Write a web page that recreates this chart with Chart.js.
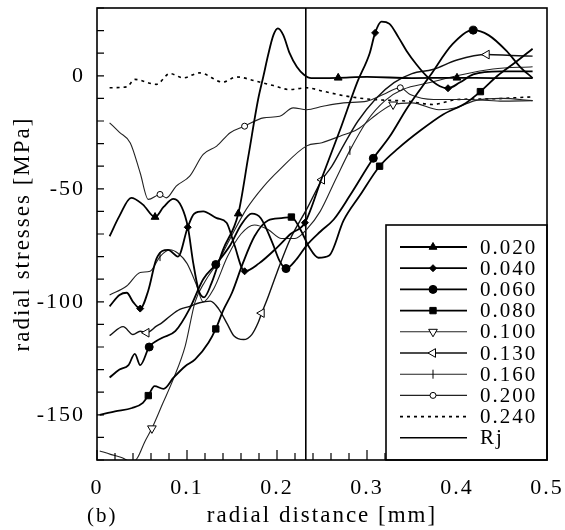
<!DOCTYPE html>
<html>
<head>
<meta charset="utf-8">
<script src="https://cdn.jsdelivr.net/npm/chart.js@4"></script>
<style>
  html, body { margin: 0; padding: 0; background: #fff; }
</style>
</head>
<body>
<canvas id="chart" width="565" height="530"></canvas>
<script>
// axis limits and the Rj line
const xMin = 0, xMax = 0.5, yMin = -170, yMax = 30;
const rj = 0.232;
const depths = ['0.020', '0.040', '0.060', '0.080', '0.100', '0.130', '0.160', '0.200', '0.240'];

// radial stress curves, one pair of arrays per depth (x in mm, y in MPa)
const x020 = [0.014, 0.025, 0.038, 0.051, 0.0645, 0.074, 0.085, 0.094, 0.101, 0.107, 0.113, 0.119, 0.127, 0.14, 0.157, 0.168, 0.179, 0.185, 0.19, 0.196, 0.201, 0.207, 0.214, 0.222, 0.23, 0.238, 0.25, 0.268, 0.3, 0.35, 0.4, 0.44, 0.484];
const y020 = [-71, -62, -54, -57, -62.5, -58, -54.5, -58, -67, -83, -95, -98, -92, -77, -61, -36, -10.5, 0, 9, 18, 21, 18, 10, 4, 0.5, -1, -1, -0.9, -0.5, -1, -0.9, -1, -1];
const mk020 = [0.0645, 0.157, 0.268, 0.4];

const x040 = [0.014, 0.025, 0.033, 0.04, 0.048, 0.057, 0.066, 0.079, 0.09, 0.1008, 0.108, 0.118, 0.133, 0.144, 0.152, 0.164, 0.18, 0.2, 0.215, 0.231, 0.25, 0.27, 0.289, 0.303, 0.309, 0.316, 0.325, 0.335, 0.344, 0.355, 0.366, 0.381, 0.39, 0.403, 0.418, 0.448, 0.484];
const y040 = [-102, -97, -96, -100, -103, -95, -81, -77, -80, -67, -61, -60, -63, -65, -74, -86.5, -83, -76, -70, -65, -45, -24, -3, 10, 19, 24, 23, 17, 11, 5, 0, -4.6, -5.5, -3, 0.6, 2, 2];
const mk040 = [0.048, 0.1008, 0.164, 0.231, 0.309, 0.39];

const x060 = [0.014, 0.025, 0.035, 0.042, 0.048, 0.058, 0.072, 0.087, 0.103, 0.118, 0.132, 0.148, 0.16, 0.172, 0.182, 0.195, 0.203, 0.21, 0.222, 0.233, 0.248, 0.263, 0.281, 0.307, 0.325, 0.345, 0.37, 0.395, 0.418, 0.435, 0.455, 0.47, 0.484];
const y060 = [-133.5, -130, -128, -123, -128, -120, -116, -113, -103, -90, -83.5, -75, -66, -61, -63, -74, -82, -85.3, -81, -75, -69, -63.6, -53, -36.5, -27, -14, 0, 14, 20.2, 18, 11, 4, -1];
const mk060 = [0.058, 0.132, 0.21, 0.307, 0.418];

const x080 = [0.003, 0.02, 0.039, 0.051, 0.057, 0.064, 0.074, 0.085, 0.098, 0.109, 0.124, 0.132, 0.14, 0.15, 0.162, 0.175, 0.19, 0.205, 0.216, 0.226, 0.236, 0.246, 0.258, 0.274, 0.292, 0.314, 0.335, 0.36, 0.385, 0.41, 0.426, 0.445, 0.465, 0.484];
const y080 = [-150, -148.5, -147, -144.7, -141.5, -137.3, -138.5, -133.6, -128.5, -125.5, -118, -112, -104, -96, -83, -71, -64, -63, -62.5, -68, -76, -80.5, -79.5, -64, -53, -40, -32, -24, -17, -12, -7, 0, 6, 12];
const mk080 = [0.057, 0.132, 0.216, 0.314, 0.426];

const x100 = [0.003, 0.015, 0.028, 0.039, 0.045, 0.053, 0.061, 0.073, 0.085, 0.098, 0.109, 0.12, 0.135, 0.148, 0.166, 0.185, 0.203, 0.233, 0.25, 0.27, 0.289, 0.311, 0.329, 0.35, 0.38, 0.4, 0.42, 0.45, 0.484];
const y100 = [-166, -167.5, -169, -171, -169, -162, -156, -145, -134, -119.6, -100, -91, -82, -72, -59, -49, -41.5, -31, -29.6, -26.7, -23.8, -17, -12.7, -12, -15, -14, -11, -10, -11];
const mk100 = [0.061, 0.329];

const x130 = [0.014, 0.029, 0.04, 0.048, 0.055, 0.066, 0.072, 0.081, 0.092, 0.103, 0.114, 0.126, 0.135, 0.145, 0.152, 0.163, 0.172, 0.179, 0.183, 0.189, 0.2, 0.215, 0.233, 0.25, 0.261, 0.275, 0.29, 0.31, 0.33, 0.35, 0.373, 0.4, 0.433, 0.46, 0.484];
const y130 = [-115, -111, -114.5, -113, -113.7, -110.8, -109.3, -106.4, -103.4, -102, -100.4, -99.7, -103, -110, -115, -116.7, -114.5, -109.3, -105, -99, -87, -72, -59, -46, -40, -30, -20, -10, -3, 1, 2.8, 7, 9.4, 9, 8.7];
const mk130 = [0.055, 0.183, 0.25, 0.433];

const x160 = [0.014, 0.033, 0.048, 0.059, 0.07, 0.081, 0.09, 0.1, 0.11, 0.118, 0.13, 0.145, 0.16, 0.175, 0.19, 0.205, 0.22, 0.233, 0.248, 0.265, 0.281, 0.3, 0.32, 0.34, 0.37, 0.4, 0.44, 0.484];
const y160 = [-97, -93, -87, -86.5, -80, -77, -78.5, -83, -92, -100, -94, -80, -70, -66, -68, -72, -72, -68, -60, -46, -33, -20, -11, -6, -3, 0, 3, 4];
const mk160 = [0.07, 0.281];

const x200 = [0.014, 0.025, 0.037, 0.048, 0.057, 0.07, 0.077, 0.088, 0.103, 0.118, 0.133, 0.148, 0.164, 0.185, 0.203, 0.218, 0.233, 0.251, 0.274, 0.3, 0.318, 0.337, 0.348, 0.374, 0.411, 0.448, 0.484];
const y200 = [-20.8, -25, -29.7, -43, -54.7, -52.5, -54, -48.8, -44.4, -34.8, -31.1, -25.2, -22.3, -18.6, -17.9, -14.2, -15, -13.5, -12, -11.2, -8.3, -5.3, -8.3, -10.5, -10.5, -11.2, -11];
const mk200 = [0.07, 0.164, 0.337];

const x240 = [0.014, 0.033, 0.042, 0.066, 0.081, 0.096, 0.114, 0.14, 0.155, 0.177, 0.196, 0.214, 0.233, 0.251, 0.277, 0.307, 0.344, 0.373, 0.4, 0.437, 0.484];
const y240 = [-5.3, -4.9, -1.6, -3.8, 1, -0.9, 1.3, -2.8, -0.5, -2.4, -4.3, -6.1, -5.3, -6.8, -9, -10.5, -11.2, -12.7, -10.5, -10.2, -9.3];

const serif = '"Liberation Serif", "Times New Roman", serif';

function pts(xs, ys) {
    return xs.map((x, i) => ({ x: x, y: ys[i] }));
}

// one line dataset, markers only at the listed x values
function curve(label, xs, ys, marks, look) {
    return {
        label: label,
        data: pts(xs, ys),
        showLine: true,
        borderColor: look.color || '#000',
        borderWidth: look.w,
        borderDash: look.dash || [],
        pointStyle: look.shape || 'circle',
        rotation: look.rot || 0,
        pointRadius: c => (marks.includes(c.raw.x) ? look.r : 0),
        pointBackgroundColor: look.fill || '#000',
        pointBorderColor: '#000',
        pointBorderWidth: 1,
        legendPoint: look.r ? { pointStyle: look.shape, rotation: look.rot || 0, radius: look.r, fill: look.fill } : null
    };
}

const datasets = [
    curve(depths[0], x020, y020, mk020, { w: 1.8, shape: 'triangle', r: 4.5 }),
    curve(depths[1], x040, y040, mk040, { w: 1.8, shape: 'rectRot', r: 3.5 }),
    curve(depths[2], x060, y060, mk060, { w: 1.8, shape: 'circle', r: 4 }),
    curve(depths[3], x080, y080, mk080, { w: 1.8, shape: 'rect', r: 4.5 }),
    curve(depths[4], x100, y100, mk100, { w: 1.1, color: '#222', shape: 'triangle', rot: 180, r: 5, fill: '#fff' }),
    curve(depths[5], x130, y130, mk130, { w: 1.4, color: '#111', shape: 'triangle', rot: -90, r: 5, fill: '#fff' }),
    curve(depths[6], x160, y160, mk160, { w: 1.1, color: '#222', shape: 'line', rot: 90, r: 4.5, fill: '#fff' }),
    curve(depths[7], x200, y200, mk200, { w: 1.1, color: '#222', shape: 'circle', r: 3, fill: '#fff' }),
    curve(depths[8], x240, y240, [], { w: 1.6, dash: [3, 4] }),
    {
        label: 'Rj',
        data: [{ x: rj, y: yMax }, { x: rj, y: yMin }],
        showLine: true,
        borderColor: '#000',
        borderWidth: 1.6,
        pointRadius: 0,
        tension: 0,
        cubicInterpolationMode: 'default'
    }
];

// frame, inward ticks, legend box and the (b) label
const decor = {
    id: 'decor',
    beforeLayout(chart) { chart.ctx.letterSpacing = '2px'; },
    beforeDraw(chart) { chart.ctx.letterSpacing = '2px'; },
    afterDatasetsDraw(chart) {
        const ctx = chart.ctx;
        const a = chart.chartArea;
        const xs = chart.scales.x, ys = chart.scales.y;
        ctx.save();
        ctx.strokeStyle = '#000';

        ctx.lineWidth = 1.2;
        ctx.beginPath();
        ys.ticks.forEach(t => {
            const py = ys.getPixelForValue(t.value);
            ctx.moveTo(a.left, py);
            ctx.lineTo(a.left + 7, py);
        });
        xs.ticks.forEach(t => {
            const px = xs.getPixelForValue(t.value);
            const len = t.label !== '' ? 10 : 7;
            ctx.moveTo(px, a.bottom);
            ctx.lineTo(px, a.bottom - len);
        });
        ctx.stroke();

        // legend
        const box = { l: 386, t: 225, r: a.right, b: a.bottom };
        ctx.fillStyle = '#fff';
        ctx.fillRect(box.l, box.t, box.r - box.l, box.b - box.t);
        ctx.lineWidth = 1.6;
        ctx.strokeRect(box.l, box.t, box.r - box.l, box.b - box.t);

        ctx.font = '21px ' + serif;
        ctx.textBaseline = 'middle';
        ctx.textAlign = 'left';
        chart.data.datasets.forEach((ds, i) => {
            const yy = 247 + i * 21.2;
            ctx.save();
            ctx.strokeStyle = ds.borderColor;
            ctx.lineWidth = ds.borderWidth;
            ctx.setLineDash(ds.borderDash || []);
            ctx.beginPath();
            ctx.moveTo(400, yy);
            ctx.lineTo(467, yy);
            ctx.stroke();
            ctx.restore();
            if (ds.legendPoint) {
                const p = ds.legendPoint;
                ctx.fillStyle = p.fill || '#000';
                ctx.strokeStyle = '#000';
                ctx.lineWidth = 1;
                Chart.helpers.drawPoint(ctx, { pointStyle: p.pointStyle, rotation: p.rotation, radius: p.radius, borderWidth: 1 }, 433, yy);
            }
            ctx.fillStyle = '#000';
            ctx.fillText(ds.label, 480, yy + 1);
        });

        ctx.font = '21px ' + serif;
        ctx.fillText('(b)', 87, 516);
        ctx.restore();

        ctx.save();
        ctx.strokeStyle = '#000';
        ctx.lineWidth = 1.6;
        ctx.strokeRect(a.left, a.top, a.right - a.left, a.bottom - a.top);
        ctx.restore();
    }
};

new Chart(document.getElementById('chart'), {
    type: 'scatter',
    data: { datasets: datasets },
    options: {
        responsive: false,
        animation: false,
        events: [],
        devicePixelRatio: 1,
        layout: { padding: { left: 0, top: 8, right: 18, bottom: 0 } },
        elements: {
            line: { cubicInterpolationMode: 'monotone', fill: false }
        },
        plugins: {
            legend: { display: false },
            tooltip: { enabled: false }
        },
        scales: {
            x: {
                type: 'linear',
                min: xMin,
                max: xMax,
                grid: { display: false, drawTicks: false },
                border: { display: false },
                ticks: {
                    stepSize: 0.02,
                    autoSkip: false,
                    maxRotation: 0,
                    padding: 15,
                    color: '#000',
                    font: { family: serif, size: 22 },
                    callback: v => {
                        const k = Math.round(v * 50);
                        if (k % 5 !== 0) return '';
                        return k === 0 ? '0' : (k / 50).toFixed(1);
                    }
                },
                title: {
                    display: true,
                    text: 'radial distance [mm]',
                    color: '#000',
                    font: { family: serif, size: 23 },
                    padding: { top: 4, bottom: 0 }
                },
                afterFit(scale) {
                    scale.height = 70;
                    scale.paddingLeft = 0;
                    scale.paddingRight = 0;
                }
            },
            y: {
                type: 'linear',
                min: yMin,
                max: yMax,
                grid: { display: false, drawTicks: false },
                border: { display: false },
                ticks: {
                    stepSize: 10,
                    autoSkip: false,
                    padding: 12,
                    color: '#000',
                    font: { family: serif, size: 22 },
                    callback: v => (Math.round(v) % 50 === 0 ? String(Math.round(v)) : '')
                },
                title: {
                    display: true,
                    text: 'radial stresses [MPa]',
                    color: '#000',
                    font: { family: serif, size: 23 },
                    padding: { top: 9, bottom: 4 }
                },
                afterFit(scale) {
                    scale.width = 97;
                    scale.paddingTop = 0;
                    scale.paddingBottom = 0;
                }
            }
        }
    },
    plugins: [decor]
});
</script>
</body>
</html>
